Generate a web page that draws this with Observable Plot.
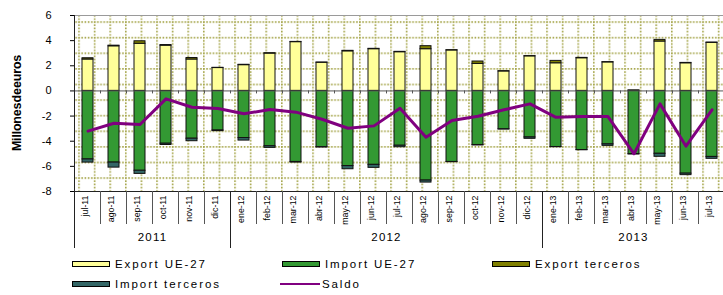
<!DOCTYPE html>
<html><head><meta charset="utf-8">
<script src="https://cdn.jsdelivr.net/npm/d3@7"></script>
<script src="https://cdn.jsdelivr.net/npm/@observablehq/plot@0.6"></script>
<style>
body{margin:0;background:#fff;font-family:"Liberation Sans",Arial,sans-serif;}
#wrap{width:723px;height:295px;position:relative;overflow:hidden;}
#legend{position:absolute;left:0;top:250px;width:723px;height:45px;}
.item{position:absolute;display:flex;align-items:center;font-size:11.5px;letter-spacing:1.9px;color:#000;height:14px;}
.sw{width:36px;height:4px;border:1px solid #000;margin-right:5px;}
.ln{width:40px;height:2px;margin-right:2px;}
</style></head><body>
<div id="wrap"><div id="chart"></div><div id="legend"></div></div>
<script>
const months = ["jul-11","ago-11","sep-11","oct-11","nov-11","dic-11","ene-12","feb-12","mar-12","abr-12","may-12","jun-12","jul-12","ago-12","sep-12","oct-12","nov-12","dic-12","ene-13","feb-13","mar-13","abr-13","may-13","jun-13","jul-13"];
const years = ["2011","2012","2013"];
const exportUE = [2.5,3.55,3.75,3.6,2.5,1.82,2.05,2.97,3.88,2.24,3.15,3.32,3.08,3.32,3.22,2.15,1.55,2.75,2.2,2.6,2.27,0.05,3.93,2.2,3.82];
const exportTerceros = [0.1,0.05,0.2,0.05,0.12,0.02,0.03,0.03,0.02,0.02,0.04,0.03,0.03,0.24,0.02,0.19,0.02,0.02,0.19,0.03,0.02,0.0,0.13,0.03,0.03];
const importUE = [-5.45,-5.7,-6.35,-4.2,-3.8,-3.15,-3.75,-4.4,-5.65,-4.47,-5.98,-5.88,-4.36,-7.13,-5.65,-4.3,-3.05,-3.7,-4.46,-4.7,-4.25,-5.02,-5.0,-6.58,-5.25];
const importTerceros = [-0.25,-0.4,-0.25,-0.1,-0.2,-0.05,-0.2,-0.13,-0.05,-0.03,-0.25,-0.24,-0.12,-0.16,-0.02,-0.04,-0.02,-0.11,-0.02,-0.02,-0.12,-0.04,-0.24,-0.12,-0.15];
const saldo = [-3.2,-2.57,-2.67,-0.63,-1.3,-1.4,-1.82,-1.48,-1.69,-2.25,-2.97,-2.78,-1.38,-3.68,-2.36,-2.01,-1.5,-1.03,-2.1,-2.04,-2.04,-5.0,-1.03,-4.4,-1.5];
const yTicks = [6,4,2,0,-2,-4,-6,-8];
const seriesNames = ["Export UE-27","Import UE-27","Export terceros","Import terceros","Saldo"];
const seriesColors = ["#ffff99","#339933","#808000","#336666","#800080"];
const yLabel = "Millones de euros";

const data = [];
months.forEach((m,i)=>{
  data.push({month:m, serie:"Export UE-27", value:exportUE[i]});
  data.push({month:m, serie:"Export terceros", value:exportTerceros[i]});
  data.push({month:m, serie:"Import UE-27", value:importUE[i]});
  data.push({month:m, serie:"Import terceros", value:importTerceros[i]});
});
const saldoData = months.map((m,i)=>({month:m, value:saldo[i]}));

const plot = Plot.plot({
  width:723, height:250,
  marginLeft:74, marginRight:0, marginTop:15, marginBottom:59,
  style:{fontFamily:"Liberation Sans, Arial, sans-serif", fontSize:"11px", color:"#000", background:"transparent", overflow:"visible"},
  x:{domain:months, range:[74,725], paddingInner:0.57, paddingOuter:0.285, axis:null},
  y:{domain:[-8,6], ticks:yTicks, tickSize:4, tickPadding:19, label:null, tickFormat:d=>String(d)},
  color:{domain:seriesNames, range:seriesColors},
  marks:[
    Plot.frame({fill:"url(#dotgrid)", stroke:null}),
    Plot.ruleY([6], {stroke:"#9a9a9a", strokeWidth:1.2}),
    Plot.barY(data,{x:"month", y:"value", fill:"serie", stroke:"#111", strokeWidth:1}),
    Plot.ruleY([0], {stroke:"#555", strokeWidth:1}),
    Plot.ruleY([-8], {stroke:"#222", strokeWidth:1}),
    Plot.line(saldoData, {x:"month", y:"value", stroke:"#800080", strokeWidth:3}),
    Plot.text(months, {x:d=>d, frameAnchor:"bottom", dy:4, rotate:-90, textAnchor:"end", fontSize:8.8, fill:"#000"})
  ]
});
document.getElementById("chart").appendChild(plot);

// Decorative dotted background pattern + axis extras using the plot's scales
const svg = d3.select(plot);
const defs = svg.insert("defs", ":first-child");
const cell = 15.6;
const pat = defs.append("pattern").attr("id","dotgrid").attr("patternUnits","userSpaceOnUse")
  .attr("width",cell).attr("height",cell).attr("x",77.7).attr("y",20.7);
pat.append("line").attr("x1",0).attr("x2",cell).attr("y1",0.8).attr("y2",0.8)
  .attr("stroke","#a6a64c").attr("stroke-width",1.6).attr("stroke-dasharray","1.6 1.6");
pat.append("line").attr("x1",0.8).attr("x2",0.8).attr("y1",0).attr("y2",cell)
  .attr("stroke","#a6a64c").attr("stroke-width",1.6).attr("stroke-dasharray","1.6 1.6");

const xs = plot.scale("x"), ys = plot.scale("y");
const step = xs.apply(months[1]) - xs.apply(months[0]);
const bw = xs.bandwidth;
const bound = i => i < months.length ? xs.apply(months[i]) + bw/2 - step/2 : xs.apply(months[months.length-1]) + bw/2 + step/2;
const yBot = ys.apply(-8), yTop = ys.apply(6), y0 = ys.apply(0);
const g = svg.append("g");
const yearOf = m => "20" + m.slice(-2);
const yearBounds = [0];
for (let i = 1; i < months.length; i++) if (yearOf(months[i]) !== yearOf(months[i-1])) yearBounds.push(i);
yearBounds.push(months.length);
// left axis line
g.append("line").attr("x1",bound(0)).attr("x2",bound(0)).attr("y1",yTop).attr("y2",yBot+57).attr("stroke","#222");
for (let i = 1; i <= months.length; i++) {
  const isYear = yearBounds.includes(i);
  const x = bound(i);
  g.append("line").attr("x1",x).attr("x2",x).attr("y1",yBot).attr("y2",yBot + (isYear ? 57 : 33)).attr("stroke", isYear ? "#222" : "#555").attr("stroke-width",1);
  g.append("line").attr("x1",x).attr("x2",x).attr("y1",y0).attr("y2",y0+3).attr("stroke","#555");
}
for (let k = 0; k < years.length; k++) {
  const xc = (bound(yearBounds[k]) + bound(yearBounds[k+1])) / 2;
  g.append("text").attr("x",xc).attr("y",yBot+50).attr("text-anchor","middle")
    .attr("font-size",11.5).attr("letter-spacing",1.2).attr("fill","#000").text(years[k]);
}
g.append("text").attr("transform",`translate(21,${(yTop+yBot)/2}) rotate(-90)`).attr("text-anchor","middle")
  .attr("font-size",12.5).attr("font-weight","bold").attr("word-spacing",-3).attr("letter-spacing",-0.2).attr("fill","#000").text(yLabel);

// Legend
const legend = document.getElementById("legend");
const legendPos = [[72,7],[282,7],[492,7],[72,27],[280,27]];
seriesNames.forEach((name,i)=>{
  const it = document.createElement("div");
  it.className = "item";
  it.style.left = legendPos[i][0] + "px";
  it.style.top = legendPos[i][1] + "px";
  const sw = document.createElement("div");
  if (name === "Saldo") { sw.className = "ln"; sw.style.background = seriesColors[i]; }
  else { sw.className = "sw"; sw.style.background = seriesColors[i]; }
  it.appendChild(sw);
  const t = document.createElement("span"); t.textContent = name; it.appendChild(t);
  legend.appendChild(it);
});
</script>
</body></html>
